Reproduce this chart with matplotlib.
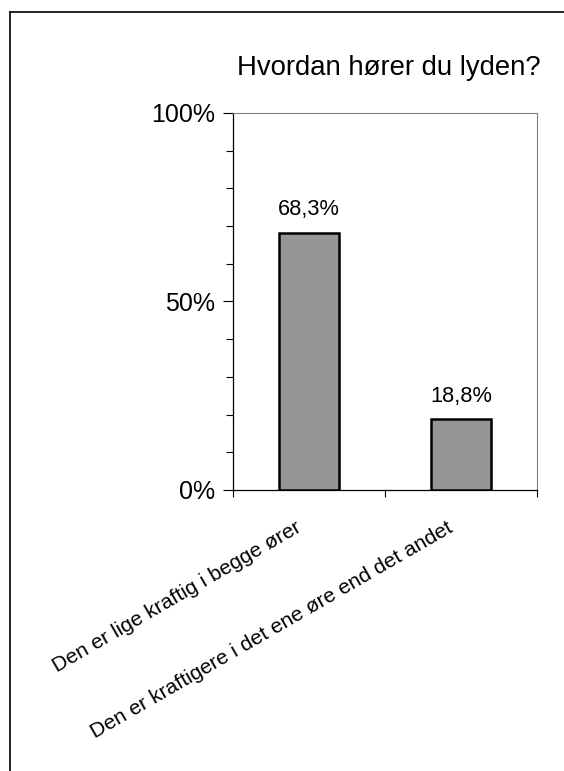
import matplotlib
matplotlib.use('Agg')
import matplotlib.pyplot as plt
import matplotlib.transforms as mtransforms
from matplotlib.ticker import MultipleLocator, FuncFormatter
from matplotlib.lines import Line2D

plt.rcParams['font.family'] = ['Liberation Sans', 'DejaVu Sans']

categories = ['Den er lige kraftig i begge ører',
              'Den er kraftigere i det ene øre end det andet']
values = [68.3, 18.8]
title = 'Hvordan hører du lyden?'

fig = plt.figure(figsize=(5.64, 7.71), dpi=100)
# partial frame around the chart area (top and left edges only)
fig.add_artist(Line2D([10/564, 1.0], [1 - 12/771, 1 - 12/771], color='black', lw=1.2,
                      transform=fig.transFigure))
fig.add_artist(Line2D([10/564, 10/564], [0.0, 1 - 12/771], color='black', lw=1.2,
                      transform=fig.transFigure))

ax = fig.add_axes([233/564, 1 - 490/771, 304/564, 377/771])
x = list(range(len(categories)))
ax.bar(x, values, width=0.4, color='#969696', edgecolor='black', linewidth=1.8, zorder=3)

for xi, v in zip(x, values):
    ax.annotate(('%.1f%%' % v).replace('.', ','), (xi, v), xytext=(0, 9),
                textcoords='offset points', ha='center', va='bottom', fontsize=15.7)

ax.set_xlim(-0.5, len(categories) - 0.5)
ax.set_ylim(0, 100)
ax.yaxis.set_major_locator(MultipleLocator(50))
ax.yaxis.set_minor_locator(MultipleLocator(10))
ax.yaxis.set_major_formatter(FuncFormatter(lambda v, p: '%d%%' % v))
ax.tick_params(axis='y', which='major', length=7, width=0.8, labelsize=18, pad=6)
ax.tick_params(axis='y', which='minor', length=5, width=0.8)

ax.set_xticks(x)
ax.set_xticklabels(categories, rotation=30, ha='right', va='top',
                   rotation_mode='anchor', fontsize=15.1)
ax.tick_params(axis='x', which='major', length=0, pad=16)
ax.set_xticks([-0.5, 0.5, 1.5], minor=True)
ax.tick_params(axis='x', which='minor', length=5, width=0.8)
shift = mtransforms.ScaledTranslation(-0.14, -0.06, fig.dpi_scale_trans)
for lbl in ax.get_xticklabels():
    lbl.set_transform(lbl.get_transform() + shift)

for s in ['top', 'right']:
    ax.spines[s].set_color('#808080')
    ax.spines[s].set_linewidth(0.8)
for s in ['left', 'bottom']:
    ax.spines[s].set_linewidth(0.9)

fig.text(389/564, 1 - 68/771, title, ha='center', va='center', fontsize=19.8)

fig.savefig('out.png', dpi=100)
